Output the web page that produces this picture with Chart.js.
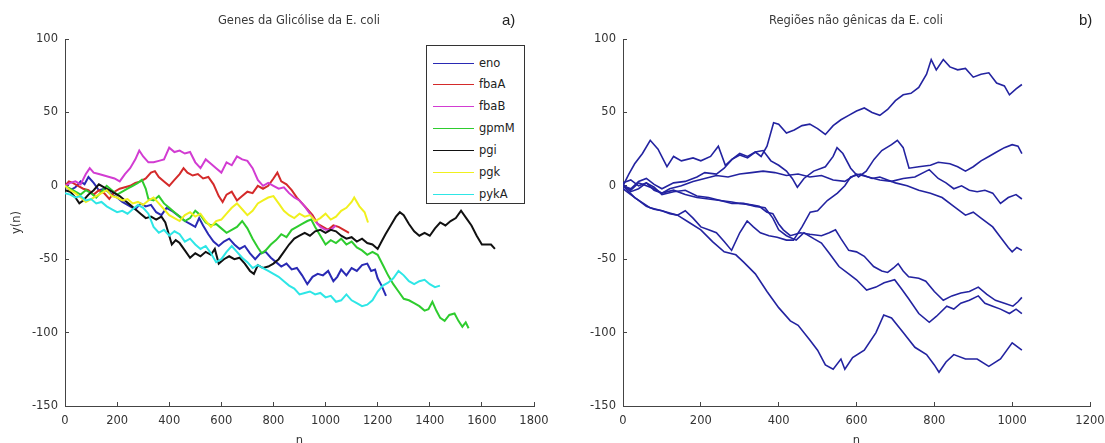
<!DOCTYPE html>
<html>
<head>
<meta charset="utf-8">
<script src="https://cdn.jsdelivr.net/npm/chart.js@4.4.1/dist/chart.umd.min.js"></script>
<style>
  body { margin:0; width:1105px; height:443px; background:#fff; position:relative; overflow:hidden; font-family:'DejaVu Sans', sans-serif; }
  .panel { position:absolute; top:0; height:443px; }
  .ttl { position:absolute; top:13px; font-size:11.5px; color:#3a3a3a; white-space:nowrap; transform:translateX(-50%); }
  .tag { position:absolute; top:11px; font-family:'Liberation Sans', sans-serif; font-size:15px; color:#222; }
  #legend { position:absolute; left:426px; top:45px; width:97px; height:157px; border:1px solid #333; background:#fff; }
  #legend .row { position:absolute; left:6px; height:14px; font-size:11.5px; color:#222; line-height:14px; }
  #legend .row span.ln { position:absolute; left:0; top:7px; width:41px; height:0; border-top:1.5px solid; }
  #legend .row span.tx { position:absolute; left:46px; top:0; white-space:nowrap; }
</style>
</head>
<body>
<div class="panel" style="left:0;width:560px"><canvas id="cA"></canvas></div>
<div class="panel" style="left:560px;width:545px"><canvas id="cB"></canvas></div>
<div class="ttl" style="left:299px">Genes da Glicólise da E. coli</div>
<div class="ttl" style="left:856px">Regiões não gênicas da E. coli</div>
<div class="tag" style="left:502px">a)</div>
<div class="tag" style="left:1079px">b)</div>
<div id="legend"></div>
<script>
// ---- painel a): genes da glicólise, pares [n, y(n)] ----
const geneNames = ['eno', 'fbaA', 'fbaB', 'gpmM', 'pgi', 'pgk', 'pykA'];
const geneColors = ['#2a2ab4', '#d42a2a', '#d23cd2', '#2ecc2e', '#111111', '#f0f01e', '#2ee6e6'];

const eno = [[0,0],[20,-3],[40,-1],[60,3],[75,1],[90,6],[110,2],[130,-3],[150,-2],[180,-6],[200,-8],[220,-11],[250,-14],[270,-16],[290,-12],[310,-14],[330,-13],[350,-18],[370,-20],[390,-15],[410,-17],[440,-21],[460,-24],[480,-26],[500,-28],[515,-22],[530,-27],[550,-33],[570,-38],[590,-41],[610,-38],[630,-36],[650,-40],[670,-43],[690,-41],[710,-46],[730,-50],[750,-46],[770,-45],[790,-49],[810,-52],[830,-55],[850,-53],[870,-57],[890,-56],[910,-61],[930,-67],[950,-62],[970,-60],[990,-61],[1010,-58],[1030,-65],[1045,-62],[1060,-57],[1080,-61],[1100,-56],[1120,-58],[1140,-54],[1160,-53],[1175,-58],[1190,-57],[1200,-63],[1215,-68],[1232,-75]];
const fbaA = [[0,0],[15,3],[30,2],[50,0],[70,-2],[90,-3],[110,-6],[130,-3],[150,-5],[170,-9],[190,-4],[210,-2],[230,-1],[250,0],[270,2],[290,3],[310,5],[330,9],[345,10],[360,6],[380,3],[400,0],[420,4],[440,8],[455,12],[470,9],[490,7],[510,8],[530,5],[550,6],[570,1],[590,-7],[605,-11],[620,-6],[640,-4],[660,-10],[680,-7],[700,-4],[720,-5],[740,0],[760,-2],[780,0],[800,5],[815,9],[830,3],[850,1],[870,-3],[890,-8],[910,-12],[930,-16],[950,-20],[970,-26],[990,-28],[1010,-30],[1030,-27],[1050,-28],[1070,-30],[1090,-32]];
const fbaB = [[0,0],[20,2],[40,3],[60,1],[80,8],[95,12],[110,9],[130,8],[150,7],[170,6],[190,5],[210,3],[230,8],[250,12],[270,18],[285,24],[300,20],[320,16],[340,16],[360,17],[380,18],[400,26],[420,23],[440,24],[460,22],[480,23],[500,16],[520,12],[540,18],[560,15],[580,12],[600,9],[620,16],[640,14],[660,20],[680,18],[700,17],[720,12],[740,4],[760,0],[780,2],[800,0],[820,-2],[840,-1],[860,-5],[880,-8],[900,-10],[920,-14],[940,-19],[960,-24],[980,-28],[1000,-30],[1020,-30],[1040,-27]];
const gpmM = [[0,0],[20,-2],[40,-4],[60,-6],[80,-3],[100,-5],[120,-8],[140,-4],[160,0],[180,-3],[200,-6],[220,-4],[240,-2],[260,0],[280,2],[295,4],[310,-2],[320,-9],[340,-10],[360,-7],[380,-12],[400,-15],[420,-18],[440,-21],[460,-24],[480,-22],[500,-17],[520,-20],[540,-25],[560,-27],[580,-26],[600,-29],[620,-32],[640,-30],[660,-28],[680,-24],[700,-29],[720,-36],[740,-42],[755,-46],[770,-44],[790,-40],[810,-37],[830,-33],[850,-35],[870,-30],[890,-28],[910,-26],[930,-24],[945,-23],[960,-28],[980,-34],[1000,-40],[1020,-37],[1040,-39],[1060,-36],[1080,-40],[1100,-38],[1120,-42],[1140,-44],[1160,-47],[1180,-45],[1200,-47],[1220,-54],[1240,-61],[1260,-67],[1280,-72],[1300,-77],[1320,-78],[1340,-80],[1360,-82],[1380,-85],[1395,-84],[1410,-79],[1425,-85],[1440,-90],[1457,-92],[1475,-88],[1495,-87],[1510,-92],[1525,-96],[1538,-93],[1549,-97]];
const pgi = [[0,-3],[20,-4],[40,-8],[55,-12],[70,-10],[90,-6],[110,-3],[130,1],[150,-1],[170,-3],[190,-5],[210,-7],[230,-10],[250,-13],[270,-16],[290,-19],[310,-22],[330,-21],[350,-23],[370,-21],[385,-25],[400,-34],[410,-40],[425,-37],[440,-39],[460,-44],[480,-49],[500,-46],[520,-48],[540,-45],[560,-47],[575,-43],[590,-53],[610,-50],[630,-48],[650,-50],[670,-49],[690,-53],[710,-58],[725,-60],[740,-54],[760,-56],[780,-55],[800,-53],[820,-50],[840,-45],[860,-40],[880,-36],[900,-34],[920,-32],[940,-34],[960,-31],[980,-30],[1000,-32],[1020,-30],[1040,-31],[1060,-34],[1080,-36],[1100,-35],[1120,-38],[1140,-36],[1160,-39],[1180,-40],[1200,-43],[1215,-38],[1230,-33],[1250,-27],[1270,-21],[1285,-18],[1300,-20],[1320,-26],[1340,-31],[1360,-34],[1380,-32],[1400,-34],[1420,-29],[1440,-25],[1460,-27],[1480,-24],[1500,-22],[1520,-17],[1540,-22],[1560,-27],[1580,-34],[1600,-40],[1620,-40],[1635,-40],[1650,-43]];
const pgk = [[0,0],[20,-3],[40,-5],[60,-8],[80,-11],[100,-9],[120,-7],[140,-5],[160,-3],[180,-7],[200,-8],[220,-10],[240,-9],[260,-12],[280,-11],[300,-13],[320,-10],[340,-8],[360,-12],[380,-16],[400,-20],[420,-22],[440,-24],[460,-20],[480,-18],[500,-21],[520,-19],[540,-24],[560,-28],[580,-24],[600,-23],[620,-19],[640,-15],[660,-12],[680,-16],[700,-20],[720,-17],[740,-12],[760,-10],[780,-8],[800,-7],[820,-12],[840,-17],[860,-20],[880,-22],[900,-19],[920,-21],[940,-20],[960,-24],[980,-22],[1000,-19],[1020,-23],[1040,-21],[1060,-17],[1080,-15],[1100,-11],[1110,-8],[1130,-14],[1150,-18],[1163,-25]];
const pykA = [[0,-5],[20,-6],[40,-8],[60,-7],[80,-10],[100,-9],[120,-12],[140,-11],[160,-14],[180,-16],[200,-18],[220,-17],[240,-19],[260,-16],[280,-13],[300,-15],[320,-19],[340,-28],[360,-32],[380,-30],[400,-34],[420,-31],[440,-33],[460,-38],[480,-36],[500,-40],[520,-43],[540,-41],[560,-46],[580,-52],[600,-50],[620,-45],[640,-41],[660,-45],[680,-49],[700,-52],[720,-56],[740,-54],[760,-56],[780,-58],[800,-60],[820,-62],[840,-65],[860,-68],[880,-70],[900,-74],[920,-73],[940,-72],[960,-74],[980,-73],[1000,-76],[1020,-75],[1040,-79],[1060,-78],[1080,-74],[1100,-78],[1120,-80],[1140,-82],[1160,-81],[1180,-78],[1200,-72],[1220,-68],[1240,-66],[1260,-63],[1280,-58],[1300,-61],[1320,-65],[1340,-67],[1360,-65],[1380,-64],[1400,-67],[1420,-69],[1439,-68]];
const geneSeries = [eno, fbaA, fbaB, gpmM, pgi, pgk, pykA];

// ---- painel b): regiões não gênicas ----
const ncColor = '#2323a0';
const nc1 = [[0,0],[15,8],[30,15],[50,22],[70,31],[90,25],[113,13],[130,20],[150,17],[180,19],[200,17],[225,20],[245,27],[263,14],[280,18],[300,22],[320,20],[340,23],[355,20],[370,27],[387,43],[400,42],[420,36],[440,38],[460,41],[480,42],[500,39],[520,35],[540,41],[560,45],[580,48],[600,51],[620,53],[640,50],[660,48],[680,52],[700,58],[720,62],[740,63],[760,67],[780,76],[792,86],[805,79],[823,86],[840,81],[860,79],[880,80],[900,74],[920,76],[940,77],[960,70],[980,68],[993,62],[1010,66],[1025,69]];
const nc2 = [[0,0],[20,-2],[40,3],[60,5],[80,1],[100,-2],[130,2],[160,3],[190,6],[210,9],[240,8],[260,12],[280,18],[300,21],[320,19],[340,23],[360,24],[380,17],[400,14],[420,10],[435,5],[448,-1],[465,5],[490,10],[520,13],[540,20],[550,26],[565,22],[585,12],[605,6],[625,10],[645,18],[665,24],[690,28],[705,31],[720,26],[735,12],[760,13],[790,14],[810,16],[840,15],[860,13],[880,10],[900,13],[920,17],[940,20],[960,23],[980,26],[1000,28],[1015,27],[1025,22]];
const nc3 = [[0,2],[20,4],[40,0],[60,2],[80,-3],[100,-5],[120,-2],[150,0],[180,3],[210,5],[240,7],[270,6],[300,8],[330,9],[360,10],[390,9],[420,7],[450,8],[480,6],[510,7],[540,4],[570,3],[600,8],[630,6],[660,4],[690,3],[720,5],[750,6],[787,11],[810,5],[830,2],[850,-2],[870,0],[890,-3],[910,-4],[930,-3],[950,-5],[970,-12],[990,-8],[1010,-6],[1025,-9]];
const nc4 = [[0,-2],[20,-6],[40,-10],[60,-14],[80,-16],[100,-17],[120,-19],[140,-20],[160,-17],[180,-22],[200,-28],[220,-30],[240,-32],[260,-38],[279,-44],[300,-32],[319,-24],[335,-28],[353,-32],[375,-34],[396,-35],[420,-37],[438,-37],[460,-28],[481,-18],[500,-17],[525,-10],[551,-5],[570,0],[585,6],[610,8],[640,5],[660,6],[680,4],[700,2],[730,0],[760,-3],[790,-5],[820,-8],[850,-14],[880,-20],[900,-18],[920,-22],[950,-28],[970,-35],[990,-42],[1000,-45],[1012,-42],[1025,-44]];
const nc5 = [[0,0],[20,-3],[40,2],[60,0],[80,-2],[100,-5],[130,-3],[160,-6],[190,-8],[220,-9],[250,-10],[280,-11],[300,-12],[330,-13],[350,-14],[370,-18],[385,-19],[400,-26],[412,-30],[430,-34],[456,-32],[480,-33],[510,-34],[530,-32],[546,-30],[560,-36],[580,-44],[600,-45],[620,-48],[644,-55],[665,-58],[680,-59],[695,-56],[707,-53],[720,-58],[734,-62],[760,-63],[778,-65],[800,-72],[823,-78],[845,-75],[868,-73],[890,-72],[913,-69],[935,-74],[957,-78],[980,-80],[1002,-82],[1015,-79],[1025,-76]];
const nc6 = [[0,1],[20,-4],[40,-2],[60,2],[80,-1],[100,-6],[130,-4],[160,-3],[190,-7],[220,-8],[250,-10],[280,-12],[310,-12],[340,-14],[365,-15],[385,-22],[400,-30],[420,-34],[445,-37],[465,-32],[490,-36],[510,-39],[530,-46],[555,-55],[580,-60],[600,-64],[626,-71],[650,-69],[671,-66],[698,-64],[715,-70],[734,-77],[760,-87],[787,-93],[805,-89],[832,-82],[850,-84],[868,-80],[890,-78],[913,-75],[930,-80],[950,-82],[970,-84],[993,-87],[1010,-84],[1025,-87]];
const nc7 = [[0,0],[30,-8],[70,-15],[100,-17],[140,-20],[170,-25],[200,-30],[230,-38],[260,-45],[290,-47],[310,-52],[340,-60],[370,-72],[400,-83],[430,-92],[450,-95],[480,-105],[500,-112],[520,-122],[540,-125],[560,-118],[570,-125],[590,-117],[620,-112],[650,-100],[670,-88],[690,-90],[720,-100],[750,-110],[780,-115],[800,-122],[812,-127],[830,-120],[850,-115],[880,-118],[910,-118],[940,-123],[970,-118],[1000,-107],[1025,-112]];
const ncSeries = [nc1, nc2, nc3, nc4, nc5, nc6, nc7];

const yTicksMin = -150, yTicksMax = 100, yStep = 50, xStep = 200;

Chart.defaults.font.family = "'DejaVu Sans', sans-serif";
Chart.defaults.font.size = 11.5;
Chart.defaults.color = '#333';

function scales(xMax, yWidth, yTitle) {
  return {
    x: {
      type: 'linear', min: 0, max: xMax,
      ticks: { stepSize: xStep, autoSkip: false, maxRotation: 0, padding: 12, callback: v => String(v) },
      grid: { drawOnChartArea: false, tickLength: -4, color: '#444' },
      border: { color: '#444' },
      title: { display: true, text: 'n', padding: { top: 0, bottom: -5 } },
      // altura fixa e sem folga extra para o último rótulo
      afterFit: s => { s.height = 37; s.paddingRight = 0; s.paddingLeft = 0; }
    },
    y: {
      min: yTicksMin, max: yTicksMax,
      ticks: { stepSize: yStep, padding: 11, callback: v => String(v) },
      grid: { drawOnChartArea: false, tickLength: -4, color: '#444' },
      border: { color: '#444' },
      title: { display: !!yTitle, text: yTitle || '', padding: { top: 10, bottom: 0 } },
      afterFit: s => { s.width = yWidth; }
    }
  };
}

function lineSet(pts, color, width, order) {
  return {
    data: pts.map(([x, y]) => ({ x, y })),
    borderColor: color, borderWidth: width,
    pointRadius: 0, tension: 0, fill: false, order
  };
}

new Chart(document.getElementById('cA'), {
  type: 'line',
  data: { datasets: geneSeries.map((s, i) => lineSet(s, geneColors[i], 2, geneSeries.length - i)) },
  options: {
    responsive: true, maintainAspectRatio: false, animation: false,
    layout: { padding: { top: 39, right: 26, bottom: 0, left: 0 } },
    plugins: { legend: { display: false }, tooltip: { enabled: false } },
    scales: scales(1800, 65, 'y(n)')
  }
});

new Chart(document.getElementById('cB'), {
  type: 'line',
  data: { datasets: ncSeries.map((s, i) => lineSet(s, ncColor, 1.6, i)) },
  options: {
    responsive: true, maintainAspectRatio: false, animation: false,
    layout: { padding: { top: 39, right: 15, bottom: 0, left: 0 } },
    plugins: { legend: { display: false }, tooltip: { enabled: false } },
    scales: scales(1200, 63, '')
  }
});

// legenda no canto superior direito do painel a)
const leg = document.getElementById('legend');
geneNames.forEach((name, i) => {
  const row = document.createElement('div');
  row.className = 'row';
  row.style.top = (9.5 + i * 21.9) + 'px';
  row.innerHTML = `<span class="ln" style="border-color:${geneColors[i]}"></span><span class="tx">${name}</span>`;
  leg.appendChild(row);
});
</script>
</body>
</html>
